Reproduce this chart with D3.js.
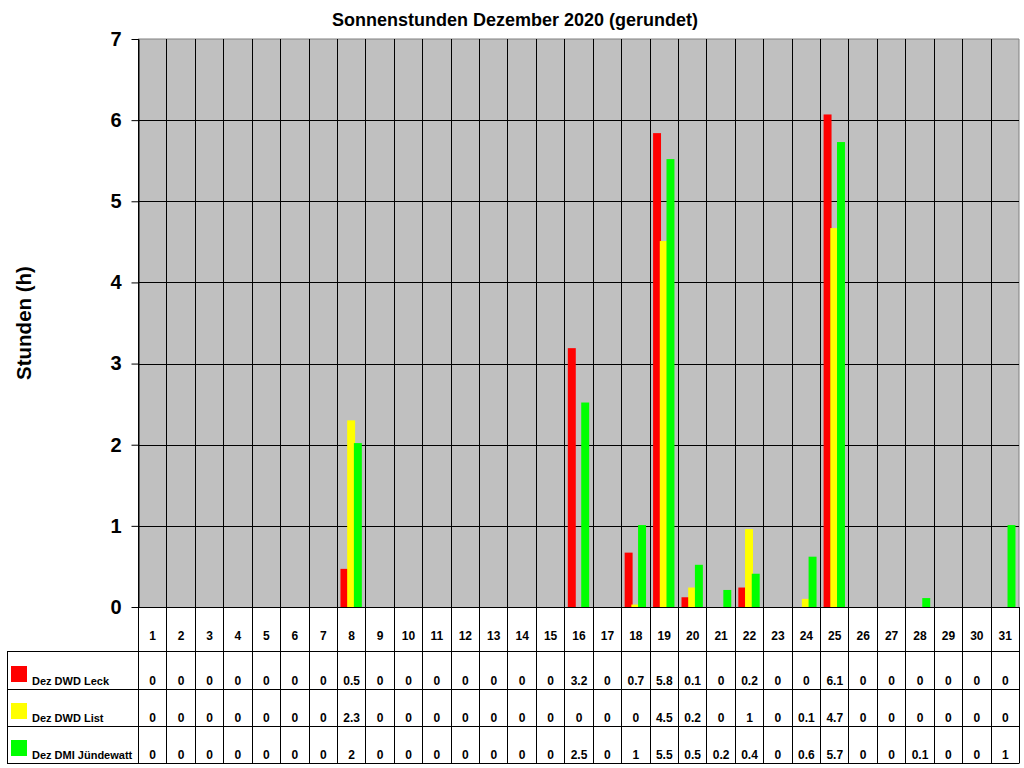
<!DOCTYPE html>
<html>
<head>
<meta charset="utf-8">
<script src="https://cdn.jsdelivr.net/npm/d3@7"></script>
<style>
  body { margin: 0; background: #fff; }
  svg { font-family: "Liberation Sans", Arial, sans-serif; font-weight: bold; }
</style>
</head>
<body>
<svg id="chart" width="1024" height="768"></svg>
<script>
// days of December
const days = d3.range(1, 32);
const seriesNames = ["Dez DWD Leck", "Dez DWD List", "Dez DMI Jündewatt"];
const seriesColors = ["#ff0000", "#ffff00", "#00ff00"];
const yTicks = [0, 1, 2, 3, 4, 5, 6, 7];

// sunshine hours (table shows them rounded to 0.1)
const leck = [0, 0, 0, 0, 0, 0, 0, 0.47, 0, 0, 0, 0, 0, 0, 0, 3.19, 0, 0.67, 5.84, 0.12,
              0, 0.24, 0, 0, 6.07, 0, 0, 0, 0, 0, 0];
const list = [0, 0, 0, 0, 0, 0, 0, 2.3, 0, 0, 0, 0, 0, 0, 0, 0, 0, 0.03, 4.51, 0.24,
              0, 0.96, 0, 0.1, 4.67, 0, 0, 0, 0, 0, 0];
const juendewatt = [0, 0, 0, 0, 0, 0, 0, 2.02, 0, 0, 0, 0, 0, 0, 0, 2.52, 0, 1.01, 5.52, 0.52,
                    0.21, 0.41, 0, 0.62, 5.73, 0, 0, 0.11, 0, 0, 1.01];
const allSeries = [leck, list, juendewatt];

const svg = d3.select("#chart");
const plot = {left: 138, right: 1019, top: 39, bottom: 607};
const rows = [607, 651, 688.5, 726, 763];
const tableLeft = 7;

const x = d3.scaleBand().domain(days).range([plot.left, plot.right]);
const bw = x.bandwidth();
const xSeries = d3.scaleBand().domain(d3.range(3))
                  .range([0.124 * bw, (0.124 + 3 * 0.236) * bw]);
const barW = 0.28 * bw;

const y = d3.scaleLinear().domain([0, 7]).range([plot.bottom, plot.top]);

// plot background
svg.append("rect")
   .attr("x", plot.left).attr("y", plot.top)
   .attr("width", plot.right - plot.left).attr("height", plot.bottom - plot.top)
   .attr("fill", "#c0c0c0");

// grey frame top/right
svg.append("path")
   .attr("d", `M${plot.left},${plot.top}H${plot.right}V${plot.bottom}`)
   .attr("fill", "none").attr("stroke", "#808080").attr("stroke-width", 1);

// horizontal gridlines
svg.append("g").selectAll("line")
   .data(yTicks.filter(t => t > 0 && t < 7))
   .enter().append("line")
   .attr("x1", plot.left).attr("x2", plot.right)
   .attr("y1", d => Math.round(y(d)) + 0.5).attr("y2", d => Math.round(y(d)) + 0.5)
   .attr("stroke", "#000").attr("stroke-width", 1);

// vertical column lines through plot and table
const bounds = days.map(d => x(d)).concat([plot.right]);
svg.append("g").selectAll("line")
   .data(bounds)
   .enter().append("line")
   .attr("x1", d => Math.round(d) + 0.5).attr("x2", d => Math.round(d) + 0.5)
   .attr("y1", (d, i) => i === bounds.length - 1 ? plot.bottom : plot.top)
   .attr("y2", rows[rows.length - 1])
   .attr("stroke", "#000").attr("stroke-width", 1);

// bars, drawn series by series so later ones overlap
allSeries.forEach((vals, si) => {
  svg.append("g").selectAll("rect")
     .data(days.map((d, i) => ({day: d, v: vals[i]})).filter(o => o.v > 0))
     .enter().append("rect")
     .attr("x", o => x(o.day) + xSeries(si))
     .attr("y", o => y(o.v))
     .attr("width", barW)
     .attr("height", o => y(0) - y(o.v))
     .attr("fill", seriesColors[si]);
});

// y axis
const yAxis = d3.axisLeft(y).tickValues(yTicks).tickFormat(d3.format("d"))
                .tickSize(7).tickSizeOuter(0).tickPadding(10);
const ya = svg.append("g")
   .attr("transform", `translate(${plot.left + 0.5},0)`)
   .call(yAxis);
ya.select(".domain").attr("stroke", "#000");
ya.selectAll(".tick line").attr("stroke", "#000");
ya.selectAll("text")
  .attr("font-size", 20).attr("font-weight", "bold").attr("fill", "#000")
  .attr("font-family", "'Liberation Sans', Arial, sans-serif");

// x axis line (0 line)
svg.append("line")
   .attr("x1", plot.left).attr("x2", plot.right)
   .attr("y1", plot.bottom + 0.5).attr("y2", plot.bottom + 0.5)
   .attr("stroke", "#000");

// table horizontal lines
svg.append("g").selectAll("line")
   .data(rows.slice(1))
   .enter().append("line")
   .attr("x1", tableLeft).attr("x2", plot.right + 0.5)
   .attr("y1", d => Math.round(d) + 0.5).attr("y2", d => Math.round(d) + 0.5)
   .attr("stroke", "#000");
svg.append("line")
   .attr("x1", tableLeft + 0.5).attr("x2", tableLeft + 0.5)
   .attr("y1", rows[1]).attr("y2", rows[4] + 1)
   .attr("stroke", "#000");

// header day numbers
svg.append("g").selectAll("text")
   .data(days)
   .enter().append("text")
   .attr("x", d => x(d) + bw / 2 + 0.5)
   .attr("y", 640)
   .attr("text-anchor", "middle")
   .attr("font-size", 12)
   .text(d => d);

// table values (rounded to one decimal)
const fmt = v => String(Math.round(v * 10) / 10);
const baselines = [685, 722, 759];
allSeries.forEach((vals, si) => {
  svg.append("g").selectAll("text")
     .data(vals)
     .enter().append("text")
     .attr("x", (v, i) => x(days[i]) + bw / 2 + 0.5)
     .attr("y", baselines[si])
     .attr("text-anchor", "middle")
     .attr("font-size", 12)
     .text(v => fmt(v));

  svg.append("rect")
     .attr("x", 11).attr("y", baselines[si] - 19)
     .attr("width", 16).attr("height", 16)
     .attr("fill", seriesColors[si]);
  svg.append("text")
     .attr("x", 32).attr("y", baselines[si])
     .attr("font-size", 11)
     .text(seriesNames[si]);
});

// titles
svg.append("text")
   .attr("x", 515).attr("y", 26)
   .attr("text-anchor", "middle")
   .attr("font-size", 18)
   .text("Sonnenstunden Dezember 2020 (gerundet)");

svg.append("text")
   .attr("transform", "translate(31,323) rotate(-90)")
   .attr("text-anchor", "middle")
   .attr("font-size", 20.5)
   .text("Stunden (h)");
</script>
</body>
</html>
